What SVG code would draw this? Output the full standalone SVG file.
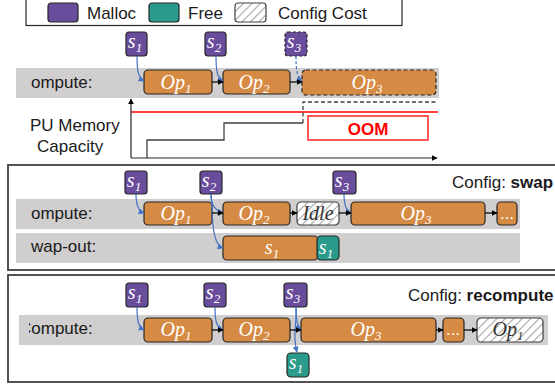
<svg xmlns="http://www.w3.org/2000/svg" width="555" height="387" viewBox="0 0 555 387">
<style>
.t{font-family:"Liberation Sans",Arial,sans-serif;font-size:17px;fill:#1a1a1a}
.b{font-weight:bold}
.m{font-family:"Liberation Serif","Times New Roman",serif;font-style:italic;font-size:20px;fill:#fff;text-anchor:middle}
.md{fill:#333}
.sub{font-size:13px}
.band{fill:#d0cece}
.op{fill:#d68b45;stroke:#262626;stroke-width:1.2}
.mal{fill:#6a4c9c;stroke:#262626;stroke-width:1.2}
.fre{fill:#2a9a8a;stroke:#262626;stroke-width:1.2}
.hat{fill:url(#hatch);stroke:#404040;stroke-width:1.2}
.panel{fill:#fff;stroke:#404040;stroke-width:1.8}
.blue{fill:none;stroke:#4472c4;stroke-width:1.2;marker-end:url(#ab)}
.blk{fill:none;stroke:#000;stroke-width:1.2;marker-end:url(#ak)}
</style>
<defs>
<pattern id="hatch" width="6" height="6" patternUnits="userSpaceOnUse" patternTransform="rotate(45)">
<rect width="6" height="6" fill="#fff"/>
<line x1="0" y1="0" x2="0" y2="6" stroke="#a6a6a6" stroke-width="2.2"/>
</pattern>
<marker id="ab" viewBox="0 0 10 10" refX="9" refY="5" markerWidth="5" markerHeight="5" orient="auto"><path d="M0,0L10,5L0,10z" fill="#4472c4"/></marker>
<marker id="ak" viewBox="0 0 10 10" refX="9" refY="5" markerWidth="5" markerHeight="5" orient="auto"><path d="M0,0L10,5L0,10z" fill="#000"/></marker>
<clipPath id="clip3"><rect x="29" y="310" width="100" height="40"/></clipPath>
</defs>
<rect width="555" height="387" fill="#fff"/>

<g id="legend">
<rect x="26" y="-6" width="376" height="31.5" fill="#fff" stroke="#262626" stroke-width="1.2"/>
<rect x="48" y="3" width="30" height="19" rx="3" class="mal"/>
<text x="87" y="19" class="t">Malloc</text>
<rect x="149" y="3" width="30" height="19" rx="3" class="fre"/>
<text x="188" y="19" class="t">Free</text>
<rect x="235" y="3" width="31" height="19" rx="3" class="hat" stroke="#7f7f7f"/>
<text x="278" y="19" class="t">Config Cost</text>
</g>

<!-- Section 1 -->
<g id="p1">
<rect x="16" y="68" width="423" height="30" class="band"/>
<text x="31" y="88" class="t">ompute:</text>
<text x="30" y="131" class="t">PU Memory</text>
<text x="37" y="152" class="t">Capacity</text>
</g>
<g id="p1-op1"><rect x="144" y="70" width="68" height="24" rx="4" class="op"/><text x="176" y="89" class="m">Op<tspan class="sub" dy="4">1</tspan></text></g>
<g id="p1-op2"><rect x="223" y="70" width="67" height="24" rx="4" class="op"/><text x="254" y="89" class="m">Op<tspan class="sub" dy="4">2</tspan></text></g>
<g id="p1-op3"><rect x="302" y="70" width="134" height="25" rx="4" class="op" stroke-dasharray="4,2.5"/><text x="367" y="89" class="m">Op<tspan class="sub" dy="4">3</tspan></text></g>
<g id="p1-s1"><rect x="126" y="32" width="21" height="24" rx="3" class="mal"/><text x="135" y="48" class="m">s<tspan class="sub" dy="4">1</tspan></text></g>
<g id="p1-s2"><rect x="205" y="32" width="21" height="24" rx="3" class="mal"/><text x="214" y="48" class="m">s<tspan class="sub" dy="4">2</tspan></text></g>
<g id="p1-s3"><rect x="285" y="32" width="22" height="24" rx="3" class="mal" stroke-dasharray="3,2"/><text x="294" y="48" class="m">s<tspan class="sub" dy="4">3</tspan></text></g>
<g id="p1-oom"><rect x="308" y="116" width="120" height="24" fill="#fff" stroke="#ff0000" stroke-width="1.3"/><text x="368" y="135" class="t b" style="fill:#ff0000" text-anchor="middle">OOM</text></g>
<g id="chart">
<line x1="131" y1="112" x2="438" y2="112" stroke="#ff0000" stroke-width="1.5"/>
<path d="M147,158V140H224V123H303" fill="none" stroke="#404040" stroke-width="1.3"/>
<path d="M303,123V102H436" fill="none" stroke="#404040" stroke-width="1.3" stroke-dasharray="4,2.5"/>
</g>

<!-- Section 2 -->
<g id="p2">
<rect x="8" y="165" width="560" height="105" class="panel"/>
<rect x="16" y="199" width="504" height="30" class="band"/>
<rect x="16" y="233" width="504" height="30" class="band"/>
<text x="31" y="219" class="t">ompute:</text>
<text x="31" y="252" class="t">wap-out:</text>
<text x="452" y="188" class="t">Config: <tspan class="b">swap</tspan></text>
</g>
<g id="p2-s1"><rect x="125" y="171" width="22" height="23" rx="3" class="mal"/><text x="134" y="187" class="m">s<tspan class="sub" dy="4">1</tspan></text></g>
<g id="p2-s2"><rect x="200" y="171" width="22" height="23" rx="3" class="mal"/><text x="209" y="187" class="m">s<tspan class="sub" dy="4">2</tspan></text></g>
<g id="p2-s3"><rect x="333" y="171" width="23" height="23" rx="3" class="mal"/><text x="342" y="187" class="m">s<tspan class="sub" dy="4">3</tspan></text></g>
<g id="p2-op1"><rect x="144" y="202" width="68" height="23" rx="4" class="op"/><text x="176" y="220" class="m">Op<tspan class="sub" dy="4">1</tspan></text></g>
<g id="p2-op2"><rect x="223" y="202" width="67" height="23" rx="4" class="op"/><text x="254" y="220" class="m">Op<tspan class="sub" dy="4">2</tspan></text></g>
<g id="p2-idle"><rect x="297" y="202" width="42" height="23" rx="4" class="hat"/><text x="318" y="220" class="m md">Idle</text></g>
<g id="p2-op3"><rect x="351" y="202" width="134" height="23" rx="4" class="op"/><text x="416" y="220" class="m">Op<tspan class="sub" dy="4">3</tspan></text></g>
<g id="p2-dots"><rect x="497" y="202" width="20" height="23" rx="4" class="op"/><text x="507" y="219" class="t" style="fill:#fff" text-anchor="middle">...</text></g>
<g id="p2-swap"><rect x="223" y="236" width="95" height="24" rx="4" class="op"/><text x="272" y="254" class="m">s<tspan class="sub" dy="4">1</tspan></text></g>
<g id="p2-free"><rect x="317" y="236" width="22" height="24" rx="4" class="fre"/><text x="326" y="254" class="m">s<tspan class="sub" dy="4">1</tspan></text></g>

<!-- Section 3 -->
<g id="p3">
<rect x="8" y="275" width="560" height="107" class="panel"/>
<rect x="19" y="315" width="529" height="30" class="band"/>
<text x="19" y="334" class="t" clip-path="url(#clip3)">Compute:</text>
<text x="408" y="301" class="t">Config: <tspan class="b">recompute</tspan></text>
</g>
<g id="p3-s1"><rect x="126" y="283" width="22" height="24" rx="3" class="mal"/><text x="135" y="299" class="m">s<tspan class="sub" dy="4">1</tspan></text></g>
<g id="p3-s2"><rect x="204" y="283" width="22" height="24" rx="3" class="mal"/><text x="213" y="299" class="m">s<tspan class="sub" dy="4">2</tspan></text></g>
<g id="p3-s3"><rect x="284" y="283" width="23" height="24" rx="3" class="mal"/><text x="293" y="299" class="m">s<tspan class="sub" dy="4">3</tspan></text></g>
<g id="p3-op1"><rect x="144" y="318" width="68" height="24" rx="4" class="op"/><text x="176" y="336" class="m">Op<tspan class="sub" dy="4">1</tspan></text></g>
<g id="p3-op2"><rect x="223" y="318" width="67" height="24" rx="4" class="op"/><text x="254" y="336" class="m">Op<tspan class="sub" dy="4">2</tspan></text></g>
<g id="p3-op3"><rect x="301" y="318" width="135" height="24" rx="4" class="op"/><text x="366" y="336" class="m">Op<tspan class="sub" dy="4">3</tspan></text></g>
<g id="p3-dots"><rect x="443" y="318" width="21" height="24" rx="4" class="op"/><text x="453" y="335" class="t" style="fill:#fff" text-anchor="middle">...</text></g>
<g id="p3-rop1"><rect x="477" y="318" width="66" height="24" rx="4" class="hat"/><text x="508" y="336" class="m md">Op<tspan class="sub" dy="4">1</tspan></text></g>
<g id="p3-free"><rect x="287" y="353" width="22" height="24" rx="4" class="fre"/><text x="296" y="369" class="m">s<tspan class="sub" dy="4">1</tspan></text></g>

<g id="connectors">
<path d="M131,158V99" fill="none" stroke="#262626" stroke-width="1.2" marker-end="url(#ak)"/>
<path d="M131,158H437" fill="none" stroke="#262626" stroke-width="1.2" marker-end="url(#ak)"/>
<path d="M137,56C137,70 138,78 144,81" class="blue"/>
<path d="M216,56C216,70 217,78 223,81" class="blue"/>
<path d="M296,56C296,70 297,78 302,81" class="blue" stroke-dasharray="3,2"/>
<path d="M212,82H223" class="blk"/>
<path d="M290,82H302" class="blk"/>
<path d="M136,194C136,205 138,211 144,213" class="blue"/>
<path d="M211,194C211,205 216,211 223,213" class="blue"/>
<path d="M211,194C213,215 211,244 223,248" class="blue"/>
<path d="M344,194C344,205 346,211 351,213" class="blue"/>
<path d="M212,213H223" class="blk"/>
<path d="M290,213H297" class="blk"/>
<path d="M339,213H351" class="blk"/>
<path d="M485,213H497" class="blk"/>
<path d="M137,307C137,320 138,327 144,330" class="blue"/>
<path d="M215,307C215,320 216,327 223,330" class="blue"/>
<path d="M296,307C296,320 297,327 301,329" class="blue"/>
<path d="M296,307C297,325 292,335 297,352" class="blue"/>
<path d="M212,330H223" class="blk"/>
<path d="M290,330H301" class="blk"/>
<path d="M436,330H443" class="blk"/>
<path d="M464,330H477" class="blk"/>
</g>
</svg>
